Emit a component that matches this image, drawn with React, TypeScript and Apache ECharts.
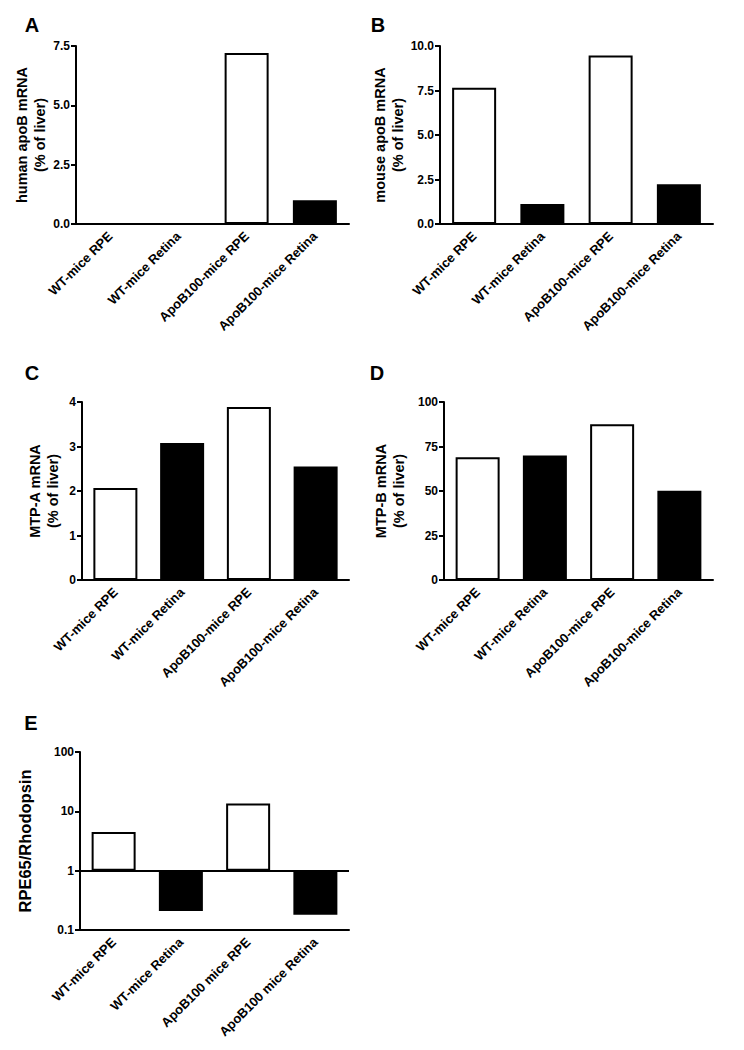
import React, { useEffect, useRef } from "react";
import * as echarts from "echarts";

const categoriesAD = ["WT-mice RPE", "WT-mice Retina", "ApoB100-mice RPE", "ApoB100-mice Retina"];
const categoriesE = ["WT-mice RPE", "WT-mice Retina", "ApoB100 mice RPE", "ApoB100 mice Retina"];

const humanApoB = [0, 0, 7.2, 1.0];
const mouseApoB = [7.65, 1.12, 9.46, 2.23];
const mtpA = [2.07, 3.08, 3.89, 2.55];
const mtpB = [68.9, 70.0, 87.5, 50.2];
const rpe65Rho = [4.5, 0.21, 13.5, 0.18];

const ticksA = { min: 0, max: 7.5, interval: 2.5, decimals: 1 };
const ticksB = { min: 0, max: 10, interval: 2.5, decimals: 1 };
const ticksC = { min: 0, max: 4, interval: 1, decimals: 0 };
const ticksD = { min: 0, max: 100, interval: 25, decimals: 0 };
const ticksE = { min: 0.1, max: 100 };

const FONT = "Liberation Sans";

export default function App() {
  const ref = useRef<HTMLDivElement>(null);
  useEffect(() => {
    if (!ref.current) return;
    const chart = echarts.init(ref.current, undefined, { renderer: "svg" });

    const grids = [
      { left: 76, top: 46, width: 273, height: 178 },
      { left: 440, top: 46, width: 273, height: 178 },
      { left: 82, top: 402, width: 267, height: 178 },
      { left: 444, top: 402, width: 269, height: 178 },
      { left: 80, top: 752, width: 269, height: 178 },
    ];

    const axisLine = { show: true, lineStyle: { color: "#000", width: 2 } };
    const axisTick = { show: true, length: 5, lineStyle: { color: "#000", width: 2 } };
    const yLabel = (decimals: number) => ({
      fontFamily: FONT,
      fontWeight: "bold" as const,
      fontSize: 12,
      color: "#000",
      margin: 6,
      formatter: (v: number) => v.toFixed(decimals),
    });

    const xAxisFor = (i: number, cats: string[], onZero = true) => ({
      type: "category" as const,
      gridIndex: i,
      data: cats,
      axisLine: { ...axisLine, onZero },
      axisTick: { show: false },
      axisLabel: {
        interval: 0,
        rotate: 45,
        fontFamily: FONT,
        fontWeight: "bold" as const,
        fontSize: 13,
        color: "#000",
        margin: 10,
      },
    });

    const nameStyle = (size: number) => ({
      fontFamily: FONT,
      fontWeight: "bold" as const,
      fontSize: size,
      color: "#000",
      lineHeight: 18,
      align: "center" as const,
    });

    const yAxisFor = (i: number, t: any, name: string, gap: number) => ({
      type: "value" as const,
      gridIndex: i,
      min: t.min,
      max: t.max,
      interval: t.interval,
      axisLine,
      axisTick,
      splitLine: { show: false },
      axisLabel: yLabel(t.decimals),
      name,
      nameLocation: "middle" as const,
      nameRotate: 90,
      nameGap: gap,
      nameTextStyle: nameStyle(14.5),
    });

    const barColor = (p: any) => (p.dataIndex % 2 === 0 ? "#ffffff" : "#000000");
    const barSeries = (i: number, data: number[], extra: any = {}) => ({
      type: "bar" as const,
      xAxisIndex: i,
      yAxisIndex: i,
      data,
      barWidth: 44,
      itemStyle: { color: barColor, borderColor: "#000", borderWidth: 2 },
      silent: true,
      ...extra,
    });

    const letters = [
      { t: "A", x: 32, y: 25 },
      { t: "B", x: 378, y: 25 },
      { t: "C", x: 32, y: 373 },
      { t: "D", x: 377, y: 373 },
      { t: "E", x: 31, y: 723 },
    ];

    chart.setOption({
      animation: false,
      backgroundColor: "#ffffff",
      grid: grids,
      xAxis: [
        xAxisFor(0, categoriesAD),
        xAxisFor(1, categoriesAD),
        xAxisFor(2, categoriesAD),
        xAxisFor(3, categoriesAD),
        xAxisFor(4, categoriesE, false),
      ],
      yAxis: [
        yAxisFor(0, ticksA, "human apoB mRNA\n(% of liver)", 22),
        yAxisFor(1, ticksB, "mouse apoB mRNA\n(% of liver)", 31),
        yAxisFor(2, ticksC, "MTP-A mRNA\n(% of liver)", 20),
        yAxisFor(3, ticksD, "MTP-B mRNA\n(% of liver)", 36),
        {
          type: "log" as const,
          logBase: 10,
          gridIndex: 4,
          min: ticksE.min,
          max: ticksE.max,
          axisLine,
          axisTick,
          splitLine: { show: false },
          axisLabel: {
            fontFamily: FONT,
            fontWeight: "bold" as const,
            fontSize: 12,
            color: "#000",
            margin: 6,
            formatter: (v: number) => String(v),
          },
          name: "RPE65/Rhodopsin",
          nameLocation: "middle" as const,
          nameRotate: 90,
          nameGap: 46,
          nameTextStyle: { ...nameStyle(16.5), lineHeight: 18 },
        },
      ],
      series: [
        barSeries(0, humanApoB),
        barSeries(1, mouseApoB),
        barSeries(2, mtpA),
        barSeries(3, mtpB),
        barSeries(4, rpe65Rho, {
          markLine: {
            silent: true,
            symbol: "none",
            label: { show: false },
            lineStyle: { color: "#000", width: 2, type: "solid" },
            data: [{ yAxis: 1 }],
          },
        }),
      ],
      graphic: letters.map((l) => ({
        type: "text",
        x: l.x,
        y: l.y,
        style: {
          text: l.t,
          font: `bold 20px ${FONT}`,
          fill: "#000",
          textAlign: "center",
          textVerticalAlign: "middle",
        },
      })),
    });

    return () => chart.dispose();
  }, []);

  return (
    <div
      ref={ref}
      style={{ position: "absolute", left: 0, top: 0, width: 744, height: 1050, background: "#fff" }}
    />
  );
}
